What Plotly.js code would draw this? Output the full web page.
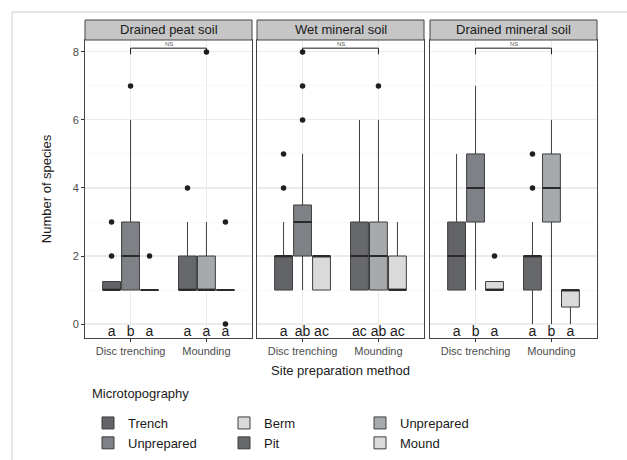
<!DOCTYPE html>
<html><head><meta charset="utf-8">
<script src="https://cdn.plot.ly/plotly-3.0.1.min.js"></script>
<style>body{margin:0;background:#fff}#chart{width:627px;height:460px}</style>
</head><body><div id="chart"></div>
<script>
// ---------- data ----------
const soils = ['Drained peat soil', 'Wet mineral soil', 'Drained mineral soil'];
const methods = ['Disc trenching', 'Mounding'];
const microNames = ['Trench', 'Unprepared', 'Berm', 'Pit', 'Unprepared', 'Mound'];
const microMethod = ['Disc trenching', 'Disc trenching', 'Disc trenching', 'Mounding', 'Mounding', 'Mounding'];
const legendTitle = 'Microtopography';
// rows: microtopography (same order as microNames); columns: soils
const q1Vals     = [[1, 1, 1], [1, 2, 3], [1, 1, 1], [1, 1, 1], [1, 1, 3], [1, 1, 0.5]];
const medianVals = [[1, 2, 2], [2, 3, 4], [1, 2, 1], [1, 2, 2], [1, 2, 4], [1, 1, 1]];
const q3Vals     = [[1.25, 2, 3], [3, 3.5, 5], [1, 2, 1.25], [2, 3, 2], [2, 3, 5], [1, 2, 1]];
const lowerVals  = [[1, 1, 1], [1, 1, 1], [1, 1, 1], [1, 1, 0], [1, 1, 0], [1, 1, 0]];
const upperVals  = [[1.25, 3, 5], [6, 5, 7], [1, 2, 1.25], [3, 6, 3], [3, 6, 6], [1, 3, 1]];
const outlierVals = [
  [[2, 3], [4, 5], []],
  [[7], [6, 7, 8], []],
  [[2], [], [2]],
  [[4], [], [4, 5]],
  [[8], [7], []],
  [[3, 0], [], []]
];
const letters = [['a', 'a', 'a'], ['b', 'ab', 'b'], ['a', 'ac', 'a'], ['a', 'ac', 'a'], ['a', 'ab', 'b'], ['a', 'ac', 'a']];
const sigLabels = ['NS', 'NS', 'NS'];
const yTicks = [0, 2, 4, 6, 8];

// ---------- style ----------
const fills = ['#636467', '#7e8185', '#dadada', '#67686b', '#a7aaad', '#dadadb'];
const FONT = 'Liberation Sans, Arial, Helvetica, sans-serif';
const plotW = 627 - 85 - 30, plotH = 460 - 40 - 122;
const domains = [[0, 167 / plotW], [172 / plotW, 339 / plotW], [345 / plotW, 1]];
const dodge = 0.25, boxW = 0.235, letterY = -0.24, bracketY = 8.11, bracketDrop = 0.18;

// position of each microtopography box: method index + dodge slot
const slotOf = microMethod.map((m, g) => microMethod.slice(0, g).filter(v => v === m).length);
const posOf = microMethod.map((m, g) => methods.indexOf(m) + 1 + (slotOf[g] - 1) * dodge);

const traces = [];
const shapes = [];
const annotations = [];
const layout = {
  width: 627, height: 460,
  margin: {l: 85, r: 30, t: 40, b: 122, autoexpand: false},
  paper_bgcolor: '#ffffff', plot_bgcolor: '#ffffff',
  font: {family: FONT, size: 11, color: '#1a1a1a'},
  boxmode: 'overlay',
  showlegend: true,
  legend: {
    orientation: 'h', x: 3 / plotW, xanchor: 'left', y: -70 / plotH, yanchor: 'top',
    entrywidth: 91, entrywidthmode: 'pixels', traceorder: 'normal',
    font: {size: 13, family: FONT, color: '#1a1a1a'},
    bgcolor: 'rgba(0,0,0,0)'
  },
  shapes: shapes, annotations: annotations
};

// legend title
annotations.push({xref: 'paper', yref: 'paper', x: 5 / plotW, y: -55 / plotH, xanchor: 'left', yanchor: 'middle',
  text: legendTitle, showarrow: false, font: {size: 13, color: '#1a1a1a', family: FONT}});

soils.forEach((soil, s) => {
  const suf = s === 0 ? '' : String(s + 1);
  const xa = 'x' + suf, ya = 'y' + suf;
  layout['xaxis' + suf] = {
    domain: domains[s], anchor: ya, range: [0.4, 2.6],
    tickmode: 'array', tickvals: methods.map((m, i) => i + 1), ticktext: methods,
    ticks: 'outside', ticklen: 3, tickcolor: '#333333', tickwidth: 1,
    tickfont: {size: 11, color: '#4d4d4d', family: FONT},
    showgrid: true, gridcolor: '#ebebeb', gridwidth: 1.1, zeroline: false,
    showline: true, mirror: true, linecolor: '#444444', linewidth: 1,
    title: s === 1 ? {text: 'Site preparation method', font: {size: 13, color: '#1a1a1a', family: FONT}, standoff: 9} : {text: ''}
  };
  layout['yaxis' + suf] = {
    domain: [0, 1], anchor: xa, range: [-0.41, 8.35],
    tickmode: 'array', tickvals: yTicks, ticktext: yTicks.map(String),
    showticklabels: s === 0, ticks: s === 0 ? 'outside' : '', ticklen: 3, tickcolor: '#333333', tickwidth: 1,
    tickfont: {size: 11, color: '#4d4d4d', family: FONT},
    showgrid: true, gridcolor: '#ebebeb', gridwidth: 1.1, zeroline: false,
    minor: {tickmode: 'array', tickvals: [1, 3, 5, 7], showgrid: true, gridcolor: '#f3f3f3', gridwidth: 0.6, ticks: ''},
    showline: true, mirror: true, linecolor: '#444444', linewidth: 1,
    title: s === 0 ? {text: 'Number of species', font: {size: 13, color: '#1a1a1a', family: FONT}, standoff: 18} : {text: ''}
  };

  // boxes
  microNames.forEach((name, g) => {
    traces.push({
      type: 'box', xaxis: xa, yaxis: ya,
      x: [posOf[g]],
      q1: [q1Vals[g][s]], median: [medianVals[g][s]], q3: [q3Vals[g][s]],
      lowerfence: [lowerVals[g][s]], upperfence: [upperVals[g][s]],
      width: boxW, whiskerwidth: 0,
      fillcolor: fills[g], line: {color: '#3d3d3d', width: 1},
      name: name, legendgroup: 'g' + g, showlegend: s === 0,
      legendrank: (g % 2) * 3 + Math.floor(g / 2) + 1,
      hoverinfo: 'skip'
    });
  });

  // thicker median lines
  const mx = [], my = [];
  microNames.forEach((n, g) => {
    mx.push(posOf[g] - boxW / 2, posOf[g] + boxW / 2, null);
    my.push(medianVals[g][s], medianVals[g][s], null);
  });
  traces.push({type: 'scatter', mode: 'lines', xaxis: xa, yaxis: ya, x: mx, y: my,
    line: {color: '#2a2a2a', width: 2}, showlegend: false, hoverinfo: 'skip', connectgaps: false});

  // outliers
  const ox = [], oy = [];
  microNames.forEach((n, g) => {
    outlierVals[g][s].forEach(v => { ox.push(posOf[g]); oy.push(v); });
  });
  traces.push({type: 'scatter', mode: 'markers', xaxis: xa, yaxis: ya, x: ox, y: oy,
    marker: {size: 5.5, color: '#1f1f1f'}, showlegend: false, hoverinfo: 'skip', cliponaxis: false});

  // letters
  traces.push({type: 'scatter', mode: 'text', xaxis: xa, yaxis: ya,
    x: posOf, y: posOf.map(() => letterY), text: microNames.map((n, g) => letters[g][s]),
    textposition: 'middle center', textfont: {size: 14, color: '#1a1a1a', family: FONT},
    showlegend: false, hoverinfo: 'skip', cliponaxis: false});

  // significance bracket
  traces.push({type: 'scatter', mode: 'lines', xaxis: xa, yaxis: ya,
    x: [1, 1, 2, 2], y: [bracketY - bracketDrop, bracketY, bracketY, bracketY - bracketDrop],
    line: {color: '#1a1a1a', width: 1}, showlegend: false, hoverinfo: 'skip', cliponaxis: false});
  annotations.push({xref: xa, yref: ya, x: 1.5, y: bracketY, yanchor: 'bottom', yshift: -1,
    text: sigLabels[s], showarrow: false, font: {size: 6, color: '#555555', family: FONT}});

  // facet strip
  shapes.push({type: 'rect', xref: xa + ' domain', yref: 'paper', x0: 0, x1: 1, y0: 1, y1: 1 + 20 / plotH,
    fillcolor: '#c6c6c6', line: {color: '#444444', width: 1}, layer: 'above'});
  annotations.push({xref: xa + ' domain', yref: 'paper', x: 0.5, y: 1 + 10 / plotH, xanchor: 'center', yanchor: 'middle',
    text: soil, showarrow: false, font: {size: 13, color: '#1a1a1a', family: FONT}});
});

// outer frame
shapes.push({type: 'rect', xref: 'paper', yref: 'paper',
  x0: (12 - 85) / plotW, x1: (650 - 85) / plotW, y0: (338 - 480) / plotH, y1: (338 - 12) / plotH,
  line: {color: '#cccccc', width: 1}, fillcolor: 'rgba(0,0,0,0)', layer: 'below'});

Plotly.newPlot('chart', traces, layout, {displayModeBar: false, staticPlot: true});
</script>
</body></html>
